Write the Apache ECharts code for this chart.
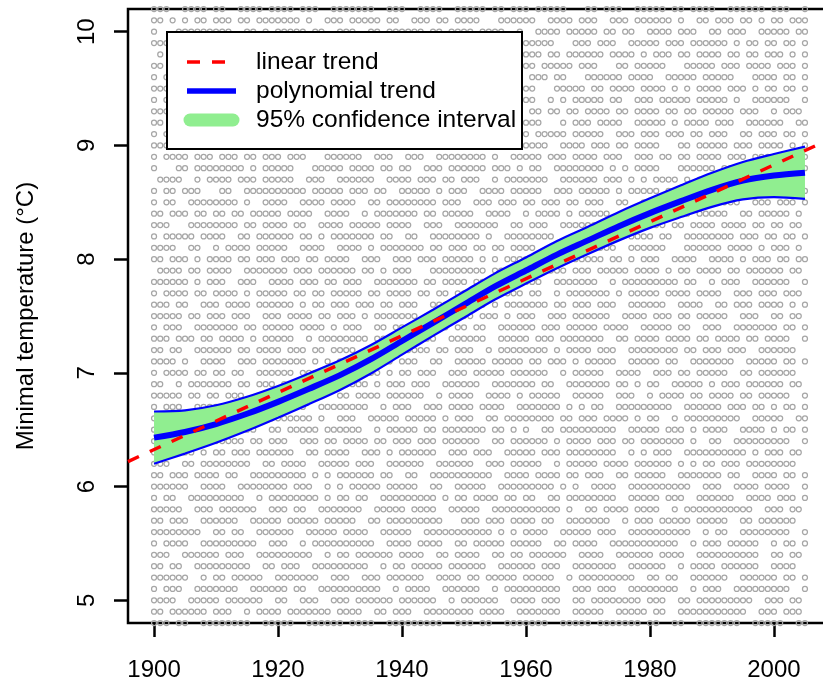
<!DOCTYPE html>
<html>
<head>
<meta charset="utf-8">
<script src="https://cdn.jsdelivr.net/npm/echarts@6/dist/echarts.min.js"></script>
<style>
  html, body { margin: 0; padding: 0; background: #fff; }
  #chart { width: 823px; height: 682px; }
</style>
</head>
<body>
<div id="chart"></div>
<script>
// Yearly station readings, one row per 0.1 °C level ('o' = reading present), 1900..2005
const obsStartYear = 1900;
const tempLevels = [10.2, 10.1, 10.0, 9.9, 9.8, 9.7, 9.6, 9.5, 9.4, 9.3, 9.2, 9.1, 9.0,
  8.9, 8.8, 8.7, 8.6, 8.5, 8.4, 8.3, 8.2, 8.1, 8.0, 7.9, 7.8, 7.7, 7.6, 7.5, 7.4, 7.3,
  7.2, 7.1, 7.0, 6.9, 6.8, 6.7, 6.6, 6.5, 6.4, 6.3, 6.2, 6.1, 6.0, 5.9, 5.8, 5.7, 5.6,
  5.5, 5.4, 5.3, 5.2, 5.1, 5.0, 4.9, 4.8];
const obsRows = [
  "ooo..oooo. oo..oooo.o ooo.ooo..o oooooo..oo o..oooo..o oooo.oo.oo o.ooooo... oo.ooo..oo ooo.oo.ooo o..oooooo. ooo..o",
  "oo.o.o.oo. ooo.oo.ooo oooo.o..oo o.ooooo.oo ..ooo.oo.o ooo...oooo oo..oooo.o oo..ooo.oo oooo.o..oo .ooo.oo.o. oo.ooo",
  "o...oooooo ooo..oo.o. ooooo.oo.. ooo..oo.oo oooo.oo.oo oo.oooo..o ..oooo.ooo oo.oo.oo.. oooo.ooo.. oo.ooo..oo ooo.oo",
  "ooooo.o.oo o.oo.oo.oo oo...ooooo ooo..o.ooo .ooo.o.ooo o.oo...ooo ooooo...oo o.ooo..ooo oo.ooo.ooo ooo.o.oo.o o.oo.o",
  ".o.ooo.oo. oooo.oo..o ooo.oo..oo oooooo.oo. ..o.oooo.o oo...oo..o ooo.oo.ooo ooo.oooo.o .ooo.oo.oo oo.oo.oo.o oo.o.o",
  "oo.oo.oo.o .oooo..ooo oooooo.... oo.ooo.ooo oo.o.o.ooo ooooo..oo. oo.ooooo.o oo...oo.oo ooo...oooo o.ooo.oooo .ooo.o",
  "o.ooo...oo ooooo..ooo o.oo..oooo oooo.oo.oo o.ooo.o..o ooo..o.ooo .ooo.oo... oooooo.ooo o..ooooo.o oooo...ooo o.oo.o",
  "ooo.oo.ooo o.ooo..oo. ooooo.oo.o .oooo.ooo. ooo.oo..oo o.oooo.oo. oo...ooooo .oo.oooo.o ooo.o.o.oo oo.ooo.o.o o.oo.o",
  "o.oo.oo.oo oooo.ooo.. ooo.oo.ooo oo...oo.oo ooo.oooo.o o.ooo.oo.o oo..o.o.oo ooo.oo..oo o.ooooo.oo ooo.o..ooo ooo..o",
  "oooo.o.o.o oo..oooooo .ooo..oo.. ooooo..ooo o.oo..oooo ooo.oo.ooo .oo.oo.oo. oooo.oo.oo oo.oo.oo.o oooo.ooo.. o.ooo.",
  "oo.ooo.oo. o.oooo..oo oo.ooo.ooo oo..o..ooo oooo.o.ooo oo.ooo.ooo ooo...o.oo o.oooo..oo ooo.o.oooo .ooo..oooo oo..oo",
  "o.ooo.oo.o ooo...oo.o oooooo.o.o .ooo.oooo. oo.ooo...o ooo.o.oooo o.ooooo.oo ooo..ooo.o oo.ooo.oo. ooo..oo.oo o.oo.o",
  "ooooo.o.oo ..oooo.o.o ooo..ooooo oooo.o.o.o ooo.ooo.o. o.ooo..ooo oooo..oooo .ooo.oo.oo oo...oo.oo ooo.ooo.oo oo.o.o",
  "o.oooo.ooo .ooo.oo.oo o.ooo...oo oooo..ooo. .ooo..oooo oooo.o..oo ooo.ooo.oo oo.ooo..oo o.oo.oo.oo oo.ooo.ooo .oo.oo",
  "o...oo.ooo ooooo.o.oo ooo...oooo o.oooo.oo. oo..ooo.oo oooo.ooo.o .oo..ooooo ooo.o.o.oo oo...ooooo o.ooo.o.oo ooo..o",
  ".oooo..o.o ooo.ooo.oo ooo..ooo.. oooooo..oo oo.ooo.oo. ooo..o.ooo oooo..oooo oo.ooo.o.o .oooo.o.o. ooo...oooo oo.oo.",
  "o.oo.ooo.. .oo..ooooo ooooo.oooo o.ooo.oo.. ooooo.o.oo o..oooo.oo ooo..ooo.o oooo.o.ooo oo.o.oo.oo oo.ooo.oo. oooo.o",
  "o.oo..oooo oooo.o..oo oo..oooo.o ooo..oo.oo oooooo.ooo ..ooo.ooo. oo.ooo.oo. ooo..oo..o ooooo.o.oo o.ooo..ooo .ooo.o",
  "oo.ooo.oo. oo.oo.oooo o.oooo..oo oo..o.oooo ooo.oo.ooo oo..oooo.. o.oooo.o.o oooo..oooo oo.oooo.oo ooo..oo.oo ooo.o.",
  "ooo...oooo oooo.oo.oo oo.oo..ooo o.ooooo.oo oo..ooo..o oooooo..oo .ooo..oooo oo.ooo..oo ooo.oo.ooo o.oooo.oo. oo.oo.",
  "o.ooooo.oo oo..oo.ooo ooo.oo.o.o oooooo.oo. .oo..ooooo ooo.o..ooo ooooo...oo oooo.o.ooo o.oo..oooo oooo.ooo.o o.oo.o",
  "oooo..oo.. o.oooo.ooo oo..oooo.. oooo.o.ooo oooo.oo.oo o.oo.oo.oo oo..oooooo .oooo..ooo ooo...oooo oo.oooo.o. ooo.o.",
  "oo.ooo.o.o ooo.oo.ooo .ooo.oo.oo oo..ooo..o oo.ooo.ooo oo.o.o.ooo o.ooo.oooo ooo.oo.o.o oo..oooo.. oooo.o.ooo .oo.oo",
  ".oooo.oo.o ooo..ooooo oo.ooo.ooo ooo.oo.o.o oo...ooooo oooo.oo.oo o..oooo.oo o.ooooo.oo oo.o.oo.oo oo.oo.oooo oo.oo.",
  "oooooo.o.o oo..ooo..o ooo.ooo.oo .ooo..oooo ooo.oo.ooo o.oooo..oo ooo..ooooo oo..o.oooo ooooo.oo.. o.ooo..ooo ooo..o",
  "o.oooo.oo. oooo.o.ooo oo.oo.oo.o oooo.oo.oo oo.oo.oo.o oooo..oooo .oo..o.ooo oooo.o.ooo oo.oooo.oo oo..ooo.oo o.ooo.",
  "ooo.oo..oo o.oooo.ooo ooo.o.oo.o oo.ooo.oo. ooo..ooooo .ooo.o.ooo oooo.oo.oo o.ooo..ooo ooo..oooo. .oo.ooo.oo oo.o.o",
  "ooooo.oo.o oo.ooo..oo o.oooo.oo. ooo.o.oooo ooo.ooo.oo oo.ooo.o.o oo..ooo.oo oooo..oooo .ooo.oo.oo ooo..ooo.. oo.oo.",
  "o.ooo..ooo oooo.oo.oo ooo.oooo.o .ooo..oo.o ooooo.oo.o o.oo..oooo oo.ooo.ooo oo.oooo..o oooo.oo..o oo..oooooo o.oo.o",
  "ooo.ooo.oo .oooo.o.oo ooo..o.ooo ooooo.oo.o oo.ooo..oo oooo..oooo o.ooo.oooo ooo..oo.oo oo.oooo.oo .oooo.oo.o ooo..o",
  "oo.oo..ooo ooo.oo.ooo o.ooo.oo.o ooo..ooooo .oooo.oo.o oo..o.oooo oooo.o.ooo o.ooo..ooo ooooo.oo.o oo.ooo..oo oooo..",
  "oooo.o..oo oo..ooo.oo ooooo.o.o. o.ooooo.o. ooo..oo..o oooo.ooooo .oo.ooo.o. ooooo..ooo oo.oo..ooo oooo..oooo o.oo.o",
  "o.oooo.oo. oo.oo..ooo ooo.ooo.oo oo..ooo.o. oo.ooo..oo o.ooooo.oo oooo..o.oo ooo..oooo. .ooo.oo.oo ooo..oo.oo oooo..",
  "oo..o.oooo ooo.oo.ooo .oooo..ooo ooooo.o.oo o.ooo..ooo ooo..ooooo oo.oo..ooo oooo.oo.o. oo..ooooo. o.ooo.oooo oo.oo.",
  "ooooo.oo.o o.ooo..ooo ooo..ooo.. oo.oooo.oo oooo..o.oo oo..oooo.o .ooooo..oo ooo..ooo.. o.oooo.oo. oooo.oo.oo ooo..o",
  "o.ooo..ooo ooooo.ooo. oo.oo..ooo ooooo..o.o oo..ooo.oo oo.oooo..o oooooo.o.o .oo..ooooo oooo..oooo oo.ooo.oo. o.oo.o",
  "ooo..ooooo o.oooo..oo oooooo.o.. ooo..ooooo .ooooo.o.o oo..oo.ooo ooooo.oo.o oo.oooo.o. oo..o.oooo ooooo..ooo oo..oo",
  "oo.oooo.oo oo..ooo..o o.ooooo.oo oooo..o.oo ooo.oo.ooo oooo.oo.o. o..oo.oooo ooooo..ooo oo.ooo.o.o ooo..oooo. o.oo.o",
  "oooo..o.oo ooooo.oo.o oo..ooo.oo .oooo.oo.o oo.ooo.ooo ooo..oo.oo oooo.o.ooo o.ooo.oo.o oooooo.o.. oo..oooooo ooo..o",
  "o.ooooo.o. oo.ooo.ooo ooo..oo.oo oo..ooo.o. oooooo..oo o.ooo..ooo oo.ooo.ooo ooooo..o.o .ooo..oooo oooooo.o.o oo.oo.",
  "ooo..oo.oo oooooo..oo .oooo..ooo oo.ooo..oo oooo..oooo oo..ooo.oo ooo..o.ooo oo.oooo.oo oooo.o.o.o o.ooo.oooo oooo..",
  "oo.ooo.ooo o.oo..oooo ooooo.o.o. oooooo.oo. .oo..ooooo ooooo..ooo o.oooo.oo. ooo..oo.oo ooo..ooooo oo.oo..ooo o.oo.o",
  "oooooo..oo oo..oooooo oo.ooo..o. o.ooooo.oo ooo..oo..o oooo..oooo ooooo.o.o. .oooo..ooo ooooooo..o oo..oooo.o ooo..o",
  "o.oo..oooo ooooo..o.o ooooooo.o. oo.oo..ooo oooooo.o.o o.oooo.oo. oo..oo.ooo ooooo..ooo oo.ooo..oo oooo..oooo .ooo.o",
  "ooooo..ooo .oooooo..o oo.oo..ooo oooo..oooo o.oooo..oo ooo..ooooo oooooo.o.. oo.oooo.oo oo..o.oooo ooooooo..o oo.oo.",
  "oo.ooo..oo oooo..oooo o.ooooo.oo ooo..oo.oo ooooooo... ooo.ooo.oo oo.oo..ooo oooo..o.oo o.ooooo.oo ooo..oo.oo oooo..",
  "oooooooo.. oo.oo..ooo ooo..ooooo .oooo..ooo oo..oooooo ooooo.o.o. oooo..oooo o.ooo..ooo ooooooo..o .oo..ooooo ooo..o",
  "o.oooo..oo ooooooo..o oo..o.oooo oooooo..oo oo.oooo..o o.ooooo.oo ooo..oo.oo oo..oooooo ooooo..o.o oo.ooooo.. o.oo.o",
  "ooo..ooooo o.ooo..ooo oooooo..o. oo.oooooo. oooo..oo.o ooo..oo.oo .oooooo..o ooo..ooooo o.oooo..oo oooooooo.. oo.oo.",
  "oo.oo..ooo oooooo..oo .ooo..oooo ooooo..o.o o.ooooo.oo oooo..oooo oo.ooo..oo ooooo..ooo ooo..o.ooo o.oooooo.. oooo..",
  "oooooo..o. oo.ooooo.. ooooooo..o oo..ooo.oo oooo..oooo .oo.ooooo. ooooo..o.o oooooooo.. oo.oo..ooo ooo..ooooo o.oo.o",
  "o.ooo..ooo oooo..oooo oo.oo..ooo ooooooo..o .oooo..ooo ooo..o.ooo oooooo..oo o.ooo..ooo ooooo..o.o oo..oooooo ooo..o",
  "oooo..oooo o.oooooo.. oo..ooo..o oo.oooooo. oooooo..o. oooooo..oo oo.ooo..oo .oooooooo. ooo..oo.oo ooooooo..o oo.oo.",
  "oo.oooooo. ooo..o.ooo o.ooooooo. oooo..oo.o oo..oooooo oo.oooo..o oooooo..oo ooo..ooooo .oo..ooooo oooooo..oo o.ooo.",
  "ooo.oo..oo oooooo..oo ooo..ooooo o.oooo..oo ooooooo..o oo.oo..ooo oooo..oooo o.ooooooo. oo..oo..oo ooooo..ooo oo..oo"
];

// Fitted trends
const fitYears = [1900, 1905, 1910, 1915, 1920, 1925, 1930, 1935, 1940, 1945, 1950,
  1955, 1960, 1965, 1970, 1975, 1980, 1985, 1990, 1995, 2000, 2005];
const polyTrend = [6.43, 6.48, 6.55, 6.64, 6.745, 6.86, 6.98, 7.12, 7.28, 7.44, 7.60,
  7.76, 7.90, 8.04, 8.165, 8.29, 8.405, 8.51, 8.61, 8.69, 8.735, 8.76];
const ciUpper = [6.66, 6.67, 6.715, 6.79, 6.885, 6.995, 7.11, 7.245, 7.40, 7.555, 7.715,
  7.875, 8.015, 8.16, 8.285, 8.415, 8.535, 8.65, 8.76, 8.855, 8.925, 8.99];
const ciLower = [6.20, 6.29, 6.385, 6.49, 6.605, 6.725, 6.85, 6.995, 7.16, 7.325, 7.485,
  7.645, 7.785, 7.92, 8.045, 8.165, 8.275, 8.37, 8.46, 8.525, 8.545, 8.53];
const linearYears = [1895.8, 2009.2];
const linearTrend = [6.22, 9.06];

// Axis ticks
const xTicks = [1900, 1920, 1940, 1960, 1980, 2000];
const yTicks = [5, 6, 7, 8, 9, 10];
const legendLabels = ['linear trend', 'polynomial trend', '95% confidence interval'];

const FONT = '"Liberation Sans", Arial, Helvetica, sans-serif';

const obsPoints = [];
obsRows.forEach((row, r) => {
  const cells = row.replace(/ /g, '');
  for (let i = 0; i < cells.length; i++) {
    if (cells[i] === 'o') obsPoints.push([obsStartYear + i, tempLevels[r]]);
  }
});

const chart = echarts.init(document.getElementById('chart'), null, { renderer: 'canvas' });

// Legend box drawn above the plot area
const LZ = 100;
const legendElements = [
  { type: 'rect', z: LZ, shape: { x: 167, y: 32, width: 355, height: 117 },
    style: { fill: '#fff', stroke: '#000', lineWidth: 2 } },
  { type: 'line', z: LZ + 1, shape: { x1: 187, y1: 62, x2: 226, y2: 62 },
    style: { stroke: '#ff0000', lineWidth: 3.5, lineDash: [13, 12] } },
  { type: 'line', z: LZ + 1, shape: { x1: 187, y1: 91, x2: 236, y2: 91 },
    style: { stroke: '#0000ff', lineWidth: 5.5 } },
  { type: 'line', z: LZ + 1, shape: { x1: 190, y1: 120, x2: 233, y2: 120 },
    style: { stroke: '#90ee90', lineWidth: 13, lineCap: 'round' } }
].concat(legendLabels.map((label, i) => ({
  type: 'text', z: LZ + 1,
  style: { x: 256, y: 62 + 29 * i, text: label, font: '24.5px ' + FONT, fill: '#000', verticalAlign: 'middle' }
})));

const plainNumber = (v) => String(v);

const option = {
  animation: false,
  backgroundColor: '#fff',
  textStyle: { fontFamily: FONT },
  grid: {
    left: 128, top: 9, right: -8, bottom: 59,
    containLabel: false,
    outerBoundsMode: 'none',
    show: true, borderColor: '#000', borderWidth: 2.5, backgroundColor: 'transparent'
  },
  xAxis: {
    type: 'value', min: 1895.8, max: 2009.2,
    axisLine: { show: false },
    splitLine: { show: false },
    axisTick: { show: true, length: 14, customValues: xTicks, lineStyle: { color: '#000', width: 2.5 } },
    axisLabel: { show: true, customValues: xTicks, formatter: plainNumber, margin: 35, fontSize: 24, color: '#000', fontFamily: FONT }
  },
  yAxis: {
    type: 'value', min: 4.8, max: 10.2,
    name: 'Minimal temperature (°C)',
    nameLocation: 'middle', nameGap: 90,
    nameTextStyle: { fontSize: 24, color: '#000', fontFamily: FONT },
    axisLine: { show: false },
    splitLine: { show: false },
    axisTick: { show: true, length: 14, customValues: yTicks, lineStyle: { color: '#000', width: 2.5 } },
    axisLabel: { show: true, customValues: yTicks, formatter: plainNumber, rotate: 90, margin: 29, fontSize: 24, color: '#000', fontFamily: FONT }
  },
  graphic: { elements: legendElements },
  series: [
    {
      // individual readings, small open circles
      type: 'custom',
      name: 'observations',
      data: obsPoints,
      encode: { x: 0, y: 1 },
      clip: true,
      silent: true,
      z: 1,
      renderItem: function (params, api) {
        const p = api.coord([api.value(0), api.value(1)]);
        return {
          type: 'circle',
          shape: { cx: p[0], cy: p[1], r: 2.5 },
          style: { fill: 'none', stroke: '#a6a6a6', lineWidth: 1.25 }
        };
      }
    },
    {
      // 95% confidence band, upper edge forward and lower edge back
      type: 'custom',
      name: 'confidence band',
      data: [[fitYears[0], ciLower[0]]],
      encode: { x: 0, y: 1 },
      clip: true,
      silent: true,
      z: 2,
      renderItem: function (params, api) {
        const pts = [];
        for (let i = 0; i < fitYears.length; i++) pts.push(api.coord([fitYears[i], ciUpper[i]]));
        for (let i = fitYears.length - 1; i >= 0; i--) pts.push(api.coord([fitYears[i], ciLower[i]]));
        return {
          type: 'polygon',
          shape: { points: pts },
          style: { fill: '#90ee90', stroke: 'none' }
        };
      }
    },
    {
      type: 'line',
      name: 'ci upper',
      data: fitYears.map((yr, i) => [yr, ciUpper[i]]),
      smooth: 0.3,
      showSymbol: false, symbol: 'none',
      lineStyle: { color: '#0000ff', width: 2.2 },
      z: 4,
      silent: true
    },
    {
      type: 'line',
      name: 'ci lower',
      data: fitYears.map((yr, i) => [yr, ciLower[i]]),
      smooth: 0.3,
      showSymbol: false, symbol: 'none',
      lineStyle: { color: '#0000ff', width: 2.2 },
      z: 4,
      silent: true
    },
    {
      type: 'line',
      name: 'polynomial trend',
      data: fitYears.map((yr, i) => [yr, polyTrend[i]]),
      smooth: 0.3,
      showSymbol: false, symbol: 'none',
      lineStyle: { color: '#0000ff', width: 6 },
      z: 5,
      silent: true
    },
    {
      type: 'line',
      name: 'linear trend',
      data: linearYears.map((yr, i) => [yr, linearTrend[i]]),
      showSymbol: false, symbol: 'none',
      lineStyle: { color: '#ff0000', width: 3.5, type: [12, 12] },
      z: 6,
      silent: true
    }
  ]
};

chart.setOption(option);
</script>
</body>
</html>
